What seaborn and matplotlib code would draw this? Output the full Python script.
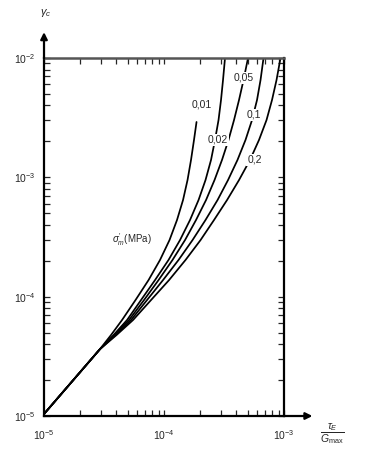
import numpy as np
import pandas as pd
import matplotlib
matplotlib.use("Agg")
import matplotlib.pyplot as plt
import seaborn as sns

# shared straight start of all curves
common_x = [1.0e-5, 2.93e-5]
common_y = [1.04e-5, 3.64e-5]

# gamma_c levels where each curve was read
y_levels = [4.77e-5, 6.37e-5, 9.37e-5, 1.377e-4, 2.03e-4, 2.98e-4, 4.39e-4,
            6.45e-4, 9.49e-4, 1.40e-3, 2.06e-3, 3.02e-3, 4.45e-3, 6.54e-3, 1.0e-2]

# tau_E / Gmax for each sigma'_m curve
x_001 = [3.617e-5, 4.467e-5, 5.788e-5, 7.429e-5, 9.261e-5, 1.111e-4, 1.283e-4,
         1.440e-4, 1.570e-4, 1.679e-4, 1.778e-4, 1.866e-4]
y_001 = y_levels[:11] + [2.91e-3]
x_002 = [3.795e-5, 4.918e-5, 6.432e-5, 8.414e-5, 1.090e-4, 1.359e-4, 1.647e-4,
         1.939e-4, 2.217e-4, 2.465e-4, 2.661e-4, 2.846e-4, 2.985e-4, 3.102e-4, 3.223e-4]
x_005 = [3.868e-5, 5.109e-5, 6.813e-5, 9.000e-5, 1.177e-4, 1.496e-4, 1.848e-4,
         2.239e-4, 2.635e-4, 3.043e-4, 3.448e-4, 3.831e-4, 4.217e-4, 4.598e-4, 5.012e-4]
x_01 = [3.944e-5, 5.309e-5, 7.218e-5, 9.810e-5, 1.321e-4, 1.728e-4, 2.217e-4,
        2.792e-4, 3.415e-4, 4.097e-4, 4.778e-4, 5.412e-4, 5.957e-4, 6.372e-4, 6.748e-4]
x_02 = [4.020e-5, 5.516e-5, 7.795e-5, 1.101e-4, 1.511e-4, 2.015e-4, 2.610e-4,
        3.350e-4, 4.217e-4, 5.207e-4, 6.191e-4, 7.147e-4, 7.943e-4, 8.660e-4, 9.350e-4]

labels = ["0,01", "0,02", "0,05", "0,1", "0,2"]
label_x = [2.07e-4, 2.82e-4, 4.64e-4, 5.62e-4, 5.70e-4]
label_y = [4.04e-3, 2.06e-3, 6.8e-3, 3.33e-3, 1.40e-3]

rows = []
for name, xs, ys in [("0,01", x_001, y_001), ("0,02", x_002, y_levels),
                     ("0,05", x_005, y_levels), ("0,1", x_01, y_levels),
                     ("0,2", x_02, y_levels)]:
    for i, (a, b) in enumerate(zip(common_x + xs, common_y + ys)):
        rows.append({"curve": name, "order": i, "x": a, "y": b})
df = pd.DataFrame(rows)

sns.set_style("ticks")
plt.rcParams["font.family"] = ["Liberation Sans", "DejaVu Sans"]
plt.rcParams["mathtext.fontset"] = "custom"
plt.rcParams["mathtext.rm"] = "Liberation Sans"
plt.rcParams["mathtext.it"] = "Liberation Sans:italic"

fig = plt.figure(figsize=(3.68, 4.55), dpi=100)
ax = fig.add_axes([0.1196, 0.0857, 0.6522, 0.7868])

sns.lineplot(data=df, x="x", y="y", hue="curve", units="curve", estimator=None,
             sort=False, palette=["black"] * 5, linewidth=1.25, legend=False, ax=ax)

ax.set_xscale("log")
ax.set_yscale("log")
ax.set_xlim(1e-5, 1e-3)
ax.set_ylim(1e-5, 1e-2)
ax.set_xlabel("")
ax.set_ylabel("")

ax.tick_params(which="both", direction="in", top=True, right=True,
               length=4, width=0.9, labelsize=7.5, pad=6)
ax.tick_params(axis="x", which="both", labeltop=False, pad=9)
for s in ["left", "bottom", "right"]:
    ax.spines[s].set_linewidth(1.6)
    ax.spines[s].set_color("black")
ax.spines["top"].set_linewidth(1.8)
ax.spines["top"].set_color("#555555")

for t, lx, ly in zip(labels, label_x, label_y):
    ax.text(lx, ly, t, fontsize=7.5, ha="center", va="center",
            bbox=dict(facecolor="white", edgecolor="none", pad=0.8))

ax.text(5.41e-5, 2.98e-4, r"$\sigma_m'$(MPa)", fontsize=7, ha="center",
        va="center")

# axis arrows
ax.annotate("", xy=(0, 1.08), xytext=(0, 0.99), xycoords="axes fraction",
            arrowprops=dict(arrowstyle="-|>", color="black", lw=1.6,
                            mutation_scale=10))
ax.annotate("", xy=(1.13, 0), xytext=(0.99, 0), xycoords="axes fraction",
            arrowprops=dict(arrowstyle="-|>", color="black", lw=1.6,
                            mutation_scale=10))
ax.text(0.005, 1.11, r"$\gamma_c$", transform=ax.transAxes, fontsize=8,
        ha="center", va="bottom")
ax.text(1.2, -0.05, r"$\dfrac{\tau_E}{G_{\mathrm{max}}}$", transform=ax.transAxes,
        fontsize=7.5, ha="center", va="center")

fig.savefig("out.png", dpi=100)
